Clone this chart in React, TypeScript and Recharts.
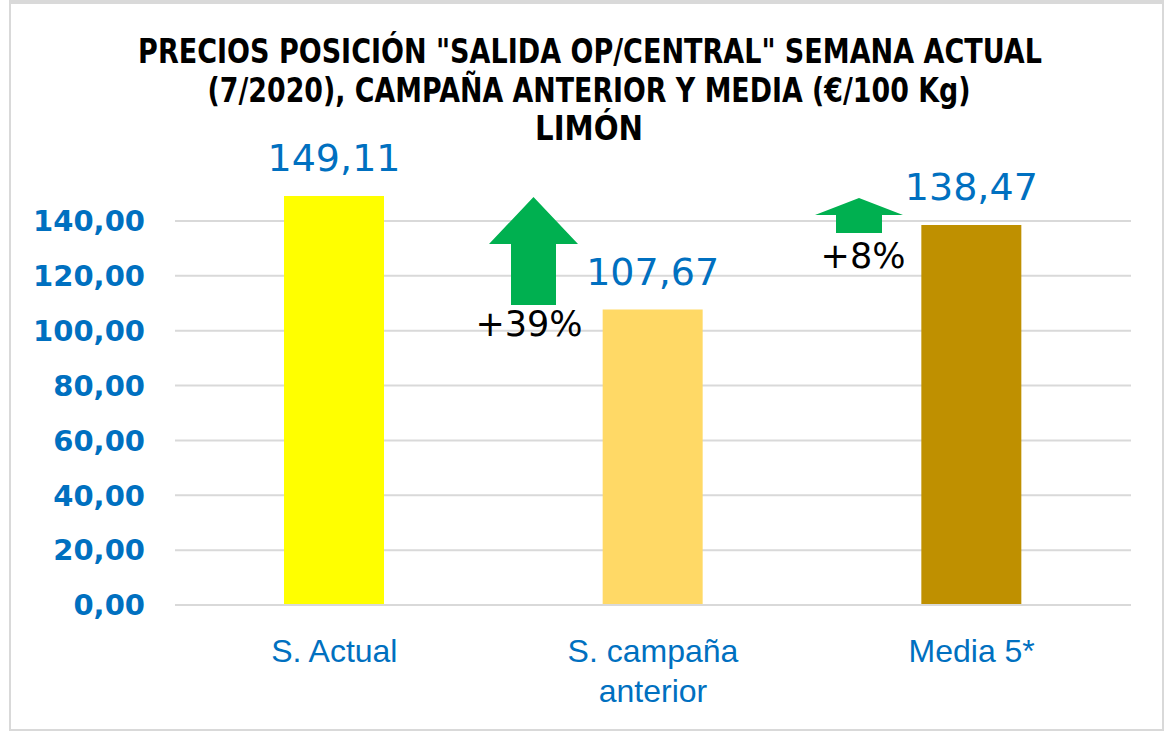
import { useLayoutEffect, useRef, useState } from 'react';
import { BarChart, Bar, XAxis, YAxis, CartesianGrid, Cell, LabelList } from 'recharts';

const categories = ['S. Actual', 'S. campaña\nanterior', 'Media 5*'];
const prices = [149.11, 107.67, 138.47];
const barColors = ['#FFFF00', '#FFD966', '#BF9000'];
const yTicks = [0, 20, 40, 60, 80, 100, 120, 140];
const titleLines = [
  'PRECIOS POSICIÓN "SALIDA OP/CENTRAL" SEMANA ACTUAL',
  '(7/2020), CAMPAÑA ANTERIOR Y MEDIA (€/100 Kg)',
  'LIMÓN',
];
const changeLabels = ['+39%', '+8%'];

const BLUE = '#0070C0';
const GREEN = '#00B050';
const GRID = '#D9D9D9';

const chartData = categories.map((name, i) => ({ name, value: prices[i] }));

const fmt = (v: number) => v.toFixed(2).replace('.', ',');

// text squeezed horizontally to a given width (the original uses a narrow font)
function FitText({ x, y, width, children }: { x: number; y: number; width: number; children: string }) {
  const ref = useRef<SVGTextElement>(null);
  const [sx, setSx] = useState(1);
  useLayoutEffect(() => {
    if (ref.current) {
      const w = ref.current.getComputedTextLength();
      if (w > 0) setSx(width / w);
    }
  }, [width, children]);
  return (
    <text ref={ref} x={0} y={0} transform={`translate(${x},${y}) scale(${sx},1)`}>
      {children}
    </text>
  );
}

function CategoryTick(props: any) {
  const { x, y, payload } = props;
  const lines = String(payload.value).split('\n');
  return (
    <g>
      {lines.map((l, i) => (
        <text
          key={i}
          x={x}
          y={y + 49 + i * 40}
          textAnchor="middle"
          fill={BLUE}
          fontSize={32}
          fontFamily="'Liberation Sans', sans-serif"
        >
          {l}
        </text>
      ))}
    </g>
  );
}

// up arrow polygon: tip, head half width, head base, shaft half width, bottom
function arrowPoints(cx: number, tip: number, headHalf: number, headBase: number, shaftHalf: number, bottom: number) {
  return [
    [cx, tip],
    [cx + headHalf, headBase],
    [cx + shaftHalf, headBase],
    [cx + shaftHalf, bottom],
    [cx - shaftHalf, bottom],
    [cx - shaftHalf, headBase],
    [cx - headHalf, headBase],
  ]
    .map((p) => p.join(','))
    .join(' ');
}

export default function App() {
  return (
    <div style={{ position: 'absolute', left: 0, top: 0, width: 1166, height: 734, background: '#fff' }}>
      <div
        style={{
          position: 'absolute',
          left: 9,
          top: 0,
          width: 1155,
          height: 731,
          borderLeft: `2px solid ${GRID}`,
          borderRight: `2px solid ${GRID}`,
          borderBottom: `2px solid ${GRID}`,
          borderTop: `4px solid ${GRID}`,
          boxSizing: 'border-box',
        }}
      />
      <BarChart
        width={1166}
        height={734}
        data={chartData}
        margin={{ top: 166, right: 35, bottom: 0, left: 10 }}
        style={{ position: 'absolute', left: 0, top: 0 }}
      >
        <CartesianGrid vertical={false} horizontalValues={yTicks} stroke={GRID} strokeWidth={2} />
        <XAxis
          dataKey="name"
          height={129}
          tickLine={false}
          axisLine={{ stroke: GRID, strokeWidth: 2 }}
          tick={<CategoryTick />}
          interval={0}
        />
        <YAxis
          width={165}
          domain={[0, 160]}
          ticks={yTicks}
          axisLine={false}
          tickLine={false}
          tickMargin={24}
          tickFormatter={fmt}
          tick={{ fill: BLUE, fontSize: 29, fontWeight: 'bold', fontFamily: "'DejaVu Sans', sans-serif" }}
        />
        <Bar dataKey="value" barSize={100} isAnimationActive={false}>
          {chartData.map((d, i) => (
            <Cell key={d.name} fill={barColors[i]} />
          ))}
          <LabelList
            dataKey="value"
            position="top"
            offset={25}
            formatter={(v: any) => fmt(Number(v))}
            fill={BLUE}
            fontSize={38}
            fontFamily="'DejaVu Sans', sans-serif"
          />
        </Bar>
      </BarChart>
      <svg width={1166} height={734} style={{ position: 'absolute', left: 0, top: 0, pointerEvents: 'none' }}>
        <g fontFamily="'DejaVu Sans', sans-serif" fontWeight="bold" fontSize={34} fill="#000" textAnchor="middle">
          <FitText x={590} y={63} width={904}>
            {titleLines[0]}
          </FitText>
          <FitText x={589} y={102} width={763}>
            {titleLines[1]}
          </FitText>
          <FitText x={589} y={140} width={108}>
            {titleLines[2]}
          </FitText>
        </g>
        <polygon points={arrowPoints(533.5, 197, 44.5, 244, 22.5, 305)} fill={GREEN} />
        <polygon points={arrowPoints(859, 198, 44, 215, 23, 233)} fill={GREEN} />
        <g fontFamily="'DejaVu Sans', sans-serif" fontSize={35} fill="#000" textAnchor="middle">
          <text x={529} y={336}>{changeLabels[0]}</text>
          <text x={863} y={268}>{changeLabels[1]}</text>
        </g>
      </svg>
    </div>
  );
}
